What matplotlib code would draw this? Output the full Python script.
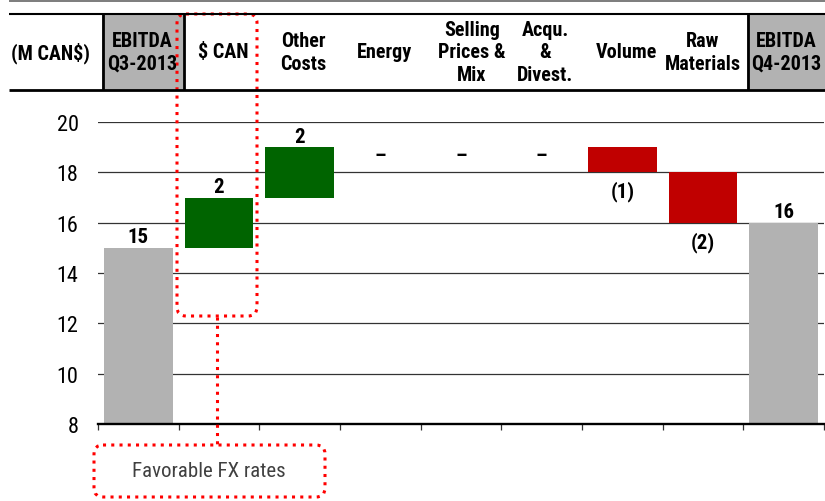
import matplotlib
matplotlib.use("Agg")
import matplotlib.pyplot as plt
import matplotlib.font_manager as fm
from matplotlib.patches import FancyBboxPatch, Rectangle
import numpy as np

# ---- data -------------------------------------------------------------
categories = ["EBITDA\nQ3-2013", "$ CAN", "Other\nCosts", "Energy",
              "Selling\nPrices &\nMix", "Acqu.\n&\nDivest.", "Volume",
              "Raw\nMaterials", "EBITDA\nQ4-2013"]
changes = [15, 2, 2, 0, 0, 0, -1, -2, 16]          # first/last are totals
is_total = [True, False, False, False, False, False, False, False, True]
value_labels = ["15", "2", "2", "–", "–", "–", "(1)", "(2)", "16"]
unit_label = "(M CAN$)"
note_text = "Favorable FX rates"
y_ticks = [8, 10, 12, 14, 16, 18, 20]

# ---- style ------------------------------------------------------------
_avail = {f.name for f in fm.fontManager.ttflist}
_pref = ["Liberation Sans Narrow", "Arial Narrow", "Roboto Condensed",
         "Archivo Narrow", "Liberation Sans"]
NARROW = next((n for n in _pref if n in _avail), "DejaVu Sans")
plt.rcParams["font.family"] = [NARROW, "DejaVu Sans"]
plt.rcParams["text.parse_math"] = False

GRAY = "#B2B2B2"
GREEN = "#006400"
RED = "#C00000"
DOT_RED = "#FF0000"

W, H = 825, 502
fig = plt.figure(figsize=(W / 100, H / 100), dpi=100)

# plot area in pixel terms
x0, x1, y_bot, y_top = 98, 824, 425, 123
ax = fig.add_axes([x0 / W, 1 - y_bot / H, (x1 - x0) / W, (y_bot - y_top) / H])
ax.set_xlim(-0.5, len(categories) - 0.5)
ax.set_ylim(8, 20)

# ---- waterfall bars ---------------------------------------------------
running = 0.0
bottoms, heights, colors, tops = [], [], [], []
for v, tot in zip(changes, is_total):
    if tot:
        bottoms.append(0)
        heights.append(v)
        colors.append(GRAY)
        running = v
    else:
        if v >= 0:
            bottoms.append(running)
            heights.append(v)
            colors.append(GREEN)
        else:
            bottoms.append(running + v)
            heights.append(-v)
            colors.append(RED)
        running += v
    tops.append(running)

xs = np.arange(len(categories))
ax.bar(xs, heights, bottom=bottoms, width=0.85, color=colors, zorder=3)

for i, (v, tot, lab) in enumerate(zip(changes, is_total, value_labels)):
    if tot or v > 0:
        ax.annotate(lab, (xs[i], bottoms[i] + heights[i]), xytext=(0, 4),
                    textcoords="offset points", ha="center", va="baseline",
                    fontsize=15, fontweight="bold", zorder=5)
    elif v < 0:
        ax.annotate(lab, (xs[i], bottoms[i]), xytext=(0, -13.5),
                    textcoords="offset points", ha="center", va="center",
                    fontsize=15, fontweight="bold", zorder=5)
    else:
        ax.annotate(lab, (xs[i], tops[i]), xytext=(0, -6),
                    textcoords="offset points", ha="center", va="center",
                    fontsize=15, fontweight="bold", zorder=5)

# ---- axes styling -----------------------------------------------------
ax.set_yticks(y_ticks)
ax.set_yticklabels([str(t) for t in y_ticks], fontsize=16)
ax.tick_params(axis="y", length=0, pad=14)
ax.yaxis.grid(True, color="#333333", linewidth=0.9, zorder=1)
ax.set_axisbelow(True)

ax.set_xticks([])
ax.set_xticks(np.arange(-0.5, len(categories)), minor=True)
ax.tick_params(axis="x", which="minor", direction="out", length=4,
               width=0.9, color="#333333")
for s in ["top", "right", "left"]:
    ax.spines[s].set_visible(False)
ax.spines["bottom"].set_linewidth(1.7)
ax.spines["bottom"].set_color("black")
ax.spines["bottom"].set_zorder(4)

# ---- header band and call-outs (pixel overlay) ------------------------
ov = fig.add_axes([0, 0, 1, 1], zorder=10)
ov.set_xlim(0, W)
ov.set_ylim(H, 0)
ov.axis("off")
ov.patch.set_visible(False)

ov.add_patch(Rectangle((9, 0), W - 9, 3, color="#7F7F7F", lw=0))
# shaded total columns
ov.add_patch(Rectangle((102, 14), 82, 77, facecolor=GRAY, edgecolor="none"))
ov.add_patch(Rectangle((747, 14), W - 747, 77, facecolor=GRAY, edgecolor="none"))
for xv in (102.5, 184, 747.5):
    ov.plot([xv, xv], [14, 91], color="black", lw=2, solid_capstyle="butt")
ov.plot([9, W], [14.5, 14.5], color="black", lw=1.5, solid_capstyle="butt")
ov.plot([9, W], [91, 91], color="black", lw=2, solid_capstyle="butt")

header_x = [142, 223, 303, 384, 472, 545, 626, 703, 786]
ov.text(50, 53, unit_label, ha="center", va="center", fontsize=14.5,
        fontweight="bold")
for hx, name in zip(header_x, categories):
    ov.text(hx, 53, name, ha="center", va="center", fontsize=14.5,
            fontweight="bold", linespacing=1.22, multialignment="center")

dots = dict(edgecolor=DOT_RED, facecolor="none", lw=2.2,
            linestyle=(0, (1, 1.7)))
ov.add_patch(FancyBboxPatch((177, 15), 80, 302,
                            boxstyle="round,pad=0,rounding_size=9", **dots))
ov.plot([217, 217], [318, 445], color=DOT_RED, lw=2.2,
        linestyle=(0, (1, 1.7)), dash_capstyle="butt")
ov.add_patch(FancyBboxPatch((94, 446), 231, 52,
                            boxstyle="round,pad=0,rounding_size=9", **dots))
ov.text(209, 472, note_text, ha="center", va="center", fontsize=15,
        color="#404040")

fig.savefig("out.png", dpi=100)
